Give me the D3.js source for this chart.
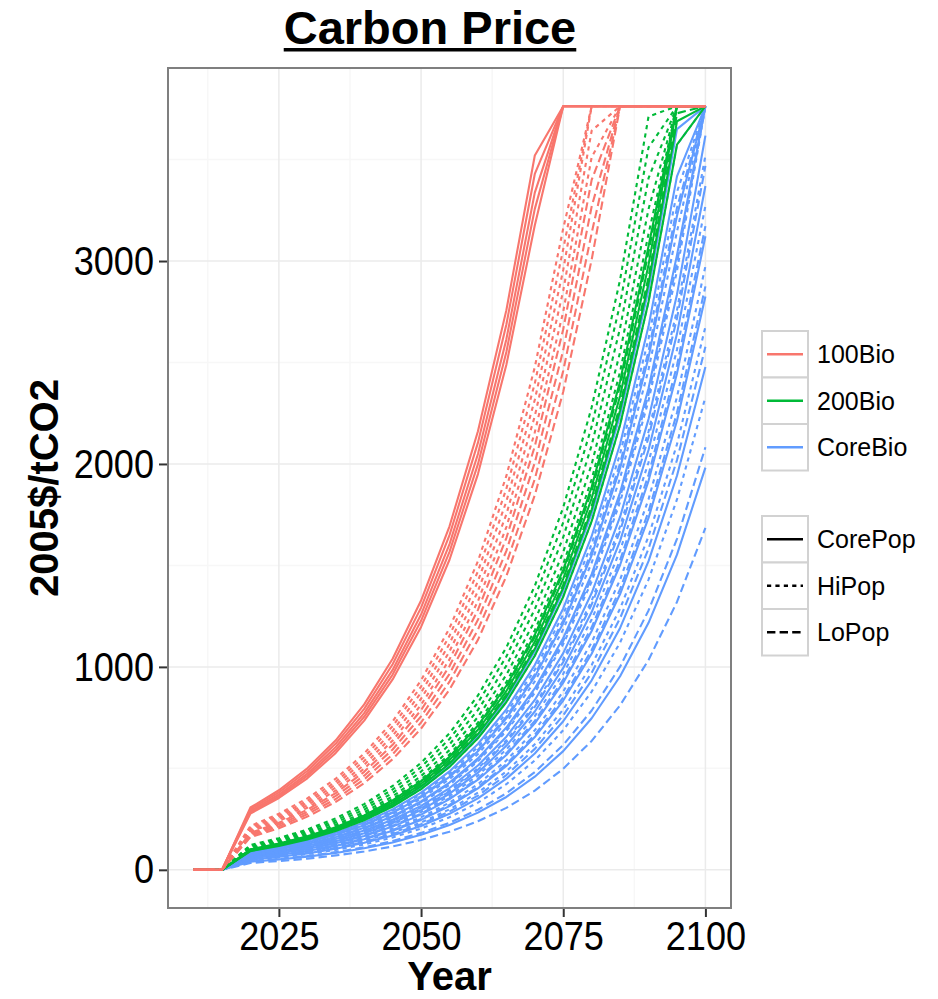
<!DOCTYPE html>
<html>
<head>
<meta charset="utf-8">
<script src="https://cdn.jsdelivr.net/npm/d3@7"></script>
<style>
  body { margin: 0; background: #fff; }
  svg text { font-family: "Liberation Sans", Arial, sans-serif; }
</style>
</head>
<body>
<svg id="chart" width="938" height="999"></svg>
<script>
// years of the series: two zero years, then 2020..2100 in 5-year steps
const leadYears = [2010, 2015];
const leadValues = [0, 0];
const years = [2020, 2025, 2030, 2035, 2040, 2045, 2050, 2055, 2060, 2065, 2070, 2075, 2080, 2085, 2090, 2095, 2100];

const xTicks = [2025, 2050, 2075, 2100];
const yTicks = [0, 1000, 2000, 3000];

const bioLabels = ["100Bio", "200Bio", "CoreBio"];
const bioColors = ["#F8766D", "#00BA38", "#619CFF"];
const popLabels = ["CorePop", "HiPop", "LoPop"];
const popDash = ["none", "4.2,4.2", "8.4,4.2"];

// 100Bio
const bio100CorePop = [
  [307, 392, 500, 638, 815, 1040, 1327, 1693, 2161, 2758, 3520, 3763, 3763, 3763, 3763, 3763, 3763],
  [299, 382, 487, 622, 793, 1013, 1292, 1649, 2105, 2687, 3429, 3763, 3763, 3763, 3763, 3763, 3763],
  [291, 371, 474, 605, 772, 985, 1258, 1605, 2049, 2615, 3337, 3763, 3763, 3763, 3763, 3763, 3763],
  [284, 362, 463, 590, 754, 962, 1227, 1567, 1999, 2552, 3257, 3763, 3763, 3763, 3763, 3763, 3763],
  [277, 354, 451, 576, 735, 938, 1197, 1528, 1950, 2489, 3176, 3763, 3763, 3763, 3763, 3763, 3763]
];
const bio100HiPop = [
  [216, 276, 352, 449, 573, 731, 934, 1191, 1521, 1941, 2477, 3161, 3763, 3763, 3763, 3763, 3763],
  [209, 267, 340, 434, 555, 708, 903, 1153, 1471, 1878, 2397, 3059, 3763, 3763, 3763, 3763, 3763],
  [202, 258, 329, 420, 536, 684, 873, 1114, 1422, 1815, 2316, 2956, 3763, 3763, 3763, 3763, 3763],
  [195, 249, 318, 405, 517, 660, 843, 1076, 1373, 1752, 2236, 2854, 3642, 3763, 3763, 3763, 3763],
  [188, 240, 306, 391, 499, 637, 813, 1037, 1324, 1689, 2156, 2751, 3512, 3763, 3763, 3763, 3763]
];
const bio100LoPop = [
  [182, 232, 296, 378, 483, 616, 787, 1004, 1281, 1635, 2087, 2664, 3400, 3763, 3763, 3763, 3763],
  [175, 223, 285, 364, 464, 593, 756, 965, 1232, 1572, 2007, 2561, 3269, 3763, 3763, 3763, 3763],
  [168, 214, 274, 349, 446, 569, 726, 927, 1183, 1509, 1926, 2459, 3138, 3763, 3763, 3763, 3763],
  [161, 205, 262, 335, 427, 545, 696, 888, 1133, 1447, 1846, 2356, 3007, 3763, 3763, 3763, 3763]
];

// 200Bio
const bio200CorePop = [
  [101, 129, 165, 210, 268, 342, 437, 557, 711, 907, 1158, 1478, 1887, 2408, 3073, 3763, 3763],
  [98, 125, 160, 204, 260, 332, 424, 541, 690, 881, 1124, 1434, 1831, 2336, 2982, 3763, 3763],
  [95, 121, 155, 197, 252, 322, 411, 524, 669, 854, 1089, 1390, 1775, 2265, 2890, 3689, 3763],
  [92, 117, 150, 191, 244, 312, 398, 507, 648, 827, 1055, 1346, 1718, 2193, 2799, 3573, 3763]
];
const bio200HiPop = [
  [122, 156, 199, 254, 324, 413, 527, 673, 859, 1096, 1399, 1786, 2279, 2908, 3712, 3763, 3763],
  [117, 149, 191, 243, 310, 396, 506, 645, 824, 1051, 1342, 1712, 2185, 2789, 3560, 3763, 3763],
  [112, 143, 182, 233, 297, 379, 484, 618, 788, 1006, 1284, 1639, 2092, 2670, 3408, 3763, 3763],
  [107, 137, 174, 222, 284, 362, 462, 590, 753, 961, 1227, 1566, 1999, 2551, 3256, 3763, 3763],
  [103, 131, 168, 214, 273, 349, 445, 568, 725, 925, 1181, 1507, 1924, 2455, 3134, 3763, 3763]
];
const bio200LoPop = [
  [100, 128, 163, 208, 265, 339, 432, 552, 704, 899, 1147, 1464, 1868, 2384, 3043, 3763, 3763],
  [96, 123, 156, 200, 255, 325, 415, 530, 676, 863, 1101, 1405, 1793, 2289, 2921, 3728, 3763]
];

// CoreBio
const coreBioCorePop = [
  [94, 120, 153, 195, 249, 318, 406, 519, 662, 845, 1078, 1376, 1756, 2241, 2860, 3650, 3763],
  [88, 112, 143, 183, 233, 298, 380, 485, 620, 791, 1009, 1288, 1644, 2098, 2678, 3417, 3763],
  [83, 106, 135, 173, 220, 281, 359, 458, 584, 746, 952, 1215, 1550, 1979, 2525, 3223, 3763],
  [78, 100, 127, 162, 207, 264, 337, 430, 549, 701, 894, 1142, 1457, 1859, 2373, 3029, 3763],
  [73, 93, 119, 152, 194, 247, 315, 403, 514, 656, 837, 1068, 1364, 1740, 2221, 2835, 3618],
  [68, 87, 111, 141, 180, 230, 294, 375, 479, 611, 780, 995, 1270, 1621, 2069, 2641, 3370],
  [63, 80, 103, 131, 167, 213, 272, 348, 444, 566, 722, 922, 1177, 1502, 1917, 2446, 3122],
  [57, 73, 93, 118, 151, 193, 246, 314, 401, 512, 654, 834, 1065, 1359, 1734, 2213, 2825],
  [50, 64, 81, 104, 133, 169, 216, 276, 352, 449, 573, 732, 934, 1192, 1521, 1942, 2478],
  [40, 51, 65, 83, 106, 135, 173, 221, 282, 359, 459, 585, 747, 954, 1217, 1553, 1982]
];
const coreBioHiPop = [
  [92, 117, 150, 191, 244, 312, 398, 507, 648, 827, 1055, 1346, 1718, 2193, 2799, 3573, 3763],
  [86, 110, 140, 179, 228, 291, 372, 474, 605, 773, 986, 1259, 1606, 2050, 2617, 3340, 3763],
  [81, 103, 132, 168, 215, 274, 350, 447, 570, 728, 929, 1185, 1513, 1931, 2465, 3145, 3763],
  [76, 97, 124, 158, 202, 257, 328, 419, 535, 683, 872, 1112, 1420, 1812, 2312, 2951, 3763],
  [71, 91, 116, 148, 188, 240, 307, 392, 500, 638, 814, 1039, 1326, 1693, 2160, 2757, 3519],
  [66, 84, 108, 137, 175, 224, 285, 364, 465, 593, 757, 966, 1233, 1573, 2008, 2563, 3271],
  [60, 77, 98, 125, 159, 203, 259, 331, 422, 539, 688, 878, 1121, 1430, 1826, 2330, 2974],
  [54, 69, 88, 112, 143, 183, 233, 298, 380, 485, 619, 790, 1009, 1287, 1643, 2097, 2676],
  [47, 60, 77, 98, 125, 159, 203, 259, 331, 422, 539, 688, 878, 1120, 1430, 1825, 2329]
];
const coreBioLoPop = [
  [84, 107, 137, 175, 223, 284, 363, 463, 591, 755, 963, 1229, 1569, 2003, 2556, 3262, 3763],
  [77, 98, 125, 160, 204, 261, 333, 425, 542, 692, 883, 1127, 1438, 1836, 2343, 2990, 3763],
  [70, 89, 114, 146, 186, 237, 303, 386, 493, 629, 803, 1024, 1308, 1669, 2130, 2718, 3469],
  [64, 82, 104, 133, 170, 217, 277, 353, 451, 575, 734, 937, 1195, 1526, 1947, 2485, 3172],
  [58, 74, 94, 121, 154, 196, 251, 320, 408, 521, 665, 849, 1083, 1383, 1765, 2252, 2875],
  [52, 66, 85, 108, 138, 176, 225, 287, 366, 467, 596, 761, 971, 1240, 1582, 2019, 2577],
  [42, 54, 68, 87, 111, 142, 182, 232, 296, 377, 482, 615, 785, 1001, 1278, 1631, 2082],
  [34, 43, 55, 71, 90, 115, 147, 188, 239, 305, 390, 498, 635, 811, 1034, 1320, 1685]
];

// groups in drawing order (blue first, red last)
const groups = [
  { bio: 2, pop: 0, lines: coreBioCorePop },
  { bio: 2, pop: 1, lines: coreBioHiPop },
  { bio: 2, pop: 2, lines: coreBioLoPop },
  { bio: 1, pop: 0, lines: bio200CorePop },
  { bio: 1, pop: 1, lines: bio200HiPop },
  { bio: 1, pop: 2, lines: bio200LoPop },
  { bio: 0, pop: 0, lines: bio100CorePop },
  { bio: 0, pop: 1, lines: bio100HiPop },
  { bio: 0, pop: 2, lines: bio100LoPop }
];

const allYears = leadYears.concat(years);
let series = [];
groups.forEach(g => {
  g.lines.forEach(vals => {
    const v = leadValues.concat(vals);
    series.push({
      bio: g.bio,
      pop: g.pop,
      points: allYears.map((yr, i) => ({ year: yr, value: v[i] }))
    });
  });
});

const svg = d3.select("#chart");
const panel = { left: 168, right: 731, top: 68, bottom: 908 };

const xMin = d3.min(allYears), xMax = d3.max(allYears);
const xPad = (xMax - xMin) * 0.05;
const x = d3.scaleLinear()
  .domain([xMin - xPad, xMax + xPad])
  .range([panel.left, panel.right]);

const yMax = d3.max(series, s => d3.max(s.points, p => p.value));
const yPad = yMax * 0.05;
const y = d3.scaleLinear()
  .domain([-yPad, yMax + yPad])
  .range([panel.bottom, panel.top]);

// minor grid
const xMinor = [2012.5, 2037.5, 2062.5, 2087.5];
const yMinor = [500, 1500, 2500, 3500];
const grid = svg.append("g");
grid.selectAll(".xminor").data(xMinor).enter().append("line")
  .attr("x1", d => x(d)).attr("x2", d => x(d))
  .attr("y1", panel.top).attr("y2", panel.bottom)
  .attr("stroke", "#f7f7f7").attr("stroke-width", 1.5);
grid.selectAll(".yminor").data(yMinor).enter().append("line")
  .attr("y1", d => y(d)).attr("y2", d => y(d))
  .attr("x1", panel.left).attr("x2", panel.right)
  .attr("stroke", "#f7f7f7").attr("stroke-width", 1.5);
// major grid
grid.selectAll(".xmajor").data(xTicks).enter().append("line")
  .attr("x1", d => x(d)).attr("x2", d => x(d))
  .attr("y1", panel.top).attr("y2", panel.bottom)
  .attr("stroke", "#ebebeb").attr("stroke-width", 1.5);
grid.selectAll(".ymajor").data(yTicks).enter().append("line")
  .attr("y1", d => y(d)).attr("y2", d => y(d))
  .attr("x1", panel.left).attr("x2", panel.right)
  .attr("stroke", "#ebebeb").attr("stroke-width", 1.5);

// lines
const line = d3.line().x(d => x(d.year)).y(d => y(d.value));
svg.append("g").selectAll("path").data(series).enter().append("path")
  .attr("d", d => line(d.points))
  .attr("fill", "none")
  .attr("stroke", d => bioColors[d.bio])
  .attr("stroke-width", 2.1)
  .attr("stroke-dasharray", d => popDash[d.pop])
  .attr("stroke-linejoin", "round");

// panel border
svg.append("rect")
  .attr("x", panel.left).attr("y", panel.top)
  .attr("width", panel.right - panel.left).attr("height", panel.bottom - panel.top)
  .attr("fill", "none").attr("stroke", "#7f7f7f").attr("stroke-width", 2);

// axes (tick labels slightly condensed like the original)
const squeeze = 0.88;
const yAxis = svg.append("g")
  .attr("transform", `translate(${panel.left - 1},0)`)
  .call(d3.axisLeft(y).tickValues(yTicks).tickSize(8).tickPadding(5).tickFormat(d3.format("d")));
const xAxis = svg.append("g")
  .attr("transform", `translate(0,${panel.bottom + 1})`)
  .call(d3.axisBottom(x).tickValues(xTicks).tickSize(8).tickPadding(4).tickFormat(d3.format("d")));
[yAxis, xAxis].forEach(a => {
  a.select(".domain").remove();
  a.selectAll(".tick line").attr("stroke", "#333").attr("stroke-width", 2);
  a.selectAll(".tick text")
    .attr("font-size", 41)
    .attr("fill", "#000")
    .attr("transform", `scale(${squeeze},1)`)
    .style("font-family", "'Liberation Sans', Arial, sans-serif");
});
yAxis.selectAll(".tick text").attr("x", -13 / squeeze);

// titles
const title = svg.append("text")
  .attr("x", 430).attr("y", 44)
  .attr("text-anchor", "middle")
  .attr("font-size", 47).attr("font-weight", "bold")
  .text("Carbon Price");
const tb = title.node().getBBox();
svg.append("rect")
  .attr("x", tb.x).attr("y", 48)
  .attr("width", tb.width).attr("height", 3.5)
  .attr("fill", "#000");

svg.append("text")
  .attr("x", x(2055)).attr("y", 990)
  .attr("text-anchor", "middle")
  .attr("font-size", 40).attr("font-weight", "bold")
  .text("Year");

svg.append("text")
  .attr("transform", `translate(58,${(panel.top + panel.bottom) / 2}) rotate(-90)`)
  .attr("text-anchor", "middle")
  .attr("font-size", 40).attr("font-weight", "bold")
  .text("2005$/tCO2");

// legends
const keyX = 762, keyW = 46, keyH = 46.5;
function legend(top, labels, drawKey) {
  const g = svg.append("g");
  labels.forEach((lab, i) => {
    const ky = top + i * keyH;
    g.append("rect")
      .attr("x", keyX).attr("y", ky)
      .attr("width", keyW).attr("height", keyH)
      .attr("fill", "#fff").attr("stroke", "#d2d2d2").attr("stroke-width", 2);
    drawKey(g, i, ky + keyH / 2);
    g.append("text")
      .attr("x", keyX + keyW + 9).attr("y", ky + keyH / 2)
      .attr("dy", "0.36em")
      .attr("font-size", 25)
      .text(lab);
  });
}
legend(331, bioLabels, (g, i, cy) => {
  g.append("line")
    .attr("x1", keyX + 5).attr("x2", keyX + keyW - 5)
    .attr("y1", cy).attr("y2", cy)
    .attr("stroke", bioColors[i]).attr("stroke-width", 2.6);
});
legend(516, popLabels, (g, i, cy) => {
  g.append("line")
    .attr("x1", keyX + 5).attr("x2", keyX + keyW - 5)
    .attr("y1", cy).attr("y2", cy)
    .attr("stroke", "#000").attr("stroke-width", 2.6)
    .attr("stroke-dasharray", popDash[i]);
});
</script>
</body>
</html>
